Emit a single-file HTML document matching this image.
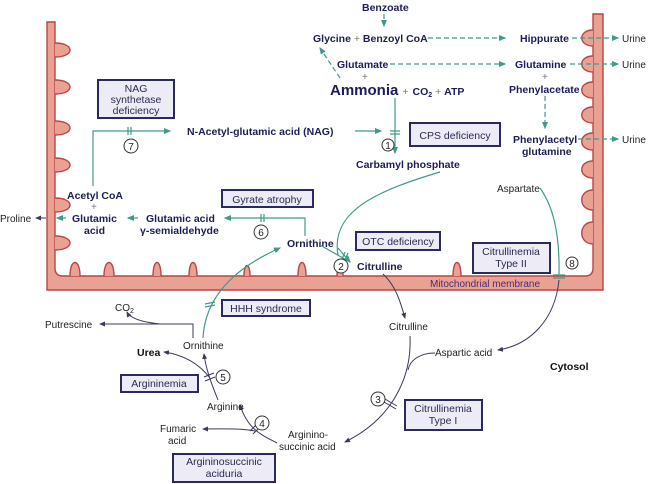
<!DOCTYPE html>
<html><head><meta charset="utf-8"><style>
html,body{margin:0;padding:0;background:#fff}
svg{display:block;font-family:"Liberation Sans",sans-serif}
.b{font-weight:bold;fill:#1c1c5a;font-size:10.5px}
.p{fill:#222;font-size:10px}
.bx{fill:#ecebf6;stroke:#2a2a60;stroke-width:2}
.bt{fill:#2a2a50;font-size:10.5px;text-anchor:middle}
.t{stroke:#3f9a8c;fill:none;stroke-width:1.2}
.d{stroke:#3a3a5a;fill:none;stroke-width:1}
.td{stroke:#3f9a8c;fill:none;stroke-width:1.2;stroke-dasharray:5,3}
.c{fill:#fff;stroke:#333;stroke-width:1}
.ct{font-size:10px;text-anchor:middle;fill:#222}
.m{fill:#e9a292;stroke:#b8454a;stroke-width:1.4}
</style></head><body>
<svg width="650" height="484" viewBox="0 0 650 484">
<defs>
<marker id="at" markerWidth="6" markerHeight="6" refX="5" refY="3" orient="auto"><path d="M0,0.5 L6,3 L0,5.5Z" fill="#3f9a8c"/></marker>
<marker id="ad" markerWidth="6" markerHeight="6" refX="5" refY="3" orient="auto"><path d="M0,0.5 L6,3 L0,5.5Z" fill="#3a3a5a"/></marker>
</defs>
<path class="m" d="M47,22 V290 H603 V14 H593 V268 Q593,276 585,276 H63 Q55,276 55,268 V22 Z"/>
<g class="m">
<path d="M55,43 C75,43 75,57 55,57"/><path d="M55,80 C75,80 75,94 55,94"/>
<path d="M55,121 C75,121 75,135 55,135"/><path d="M55,158 C75,158 75,172 55,172"/>
<path d="M55,198 C75,198 75,212 55,212"/><path d="M55,236 C75,236 75,250 55,250"/>
<path d="M70,276 C70,258 80,258 80,276"/><path d="M104,276 C104,258 114,258 114,276"/>
<path d="M153,276 C153,258 161,258 161,276"/><path d="M189,276 C189,258 197,258 197,276"/>
<path d="M244,276 C244,262 250,262 250,276"/><path d="M298,276 C298,258 306,258 306,276"/>
<path d="M337,276 C337,262 343,262 343,276"/><path d="M453,276 C453,258 461,258 461,276"/>
<path d="M593,30 C578,30 578,46 593,46"/><path d="M593,56 C578,56 578,72 593,72"/>
<path d="M593,82 C578,82 578,98 593,98"/><path d="M593,107 C578,107 578,123 593,123"/>
<path d="M593,133 C578,133 578,150 593,150"/><path d="M593,161 C578,161 578,178 593,178"/>
<path d="M593,190 C578,190 578,210 593,210"/><path d="M593,222 C578,222 578,244 593,244"/>
</g>
<text x="430" y="287" font-size="10" fill="#4a2a7a">Mitochondrial membrane</text>

<text class="b" x="362" y="11">Benzoate</text>
<text class="b" x="313" y="42">Glycine <tspan font-weight="normal" fill="#777">+</tspan> Benzoyl CoA</text>
<text class="b" x="520" y="42">Hippurate</text>
<text class="b" x="337" y="68">Glutamate</text>
<text x="362" y="80" font-size="10" fill="#777">+</text>
<text x="330" y="95" font-size="15" font-weight="bold" fill="#1c1c5a">Ammonia <tspan font-size="10" font-weight="normal" fill="#777">+</tspan> <tspan font-size="10.5">CO<tspan font-size="7" dy="2">2</tspan><tspan dy="-2" font-weight="normal" fill="#777"> + </tspan>ATP</tspan></text>
<text class="b" x="515" y="68">Glutamine</text>
<text x="542" y="80" font-size="10" fill="#777">+</text>
<text class="b" x="509" y="93">Phenylacetate</text>
<text class="b" x="513" y="143">Phenylacetyl</text>
<text class="b" x="522" y="155">glutamine</text>
<text class="p" x="622" y="42">Urine</text>
<text class="p" x="622" y="68">Urine</text>
<text class="p" x="622" y="143">Urine</text>
<path class="td" d="M384,14 V26" marker-end="url(#at)"/>
<path class="td" d="M428,38 H505" marker-end="url(#at)"/>
<path class="td" d="M572,38 H618" marker-end="url(#at)" />
<path class="td" d="M390,64 H505" marker-end="url(#at)"/>
<path class="td" d="M570,64 H618" marker-end="url(#at)"/>
<path class="td" d="M340,78 L320,48" marker-end="url(#at)"/>
<path class="td" d="M545,96 V128" marker-end="url(#at)"/>
<path class="td" d="M578,139 H618" marker-end="url(#at)"/>
<path class="t" d="M395,98 V153" marker-end="url(#at)"/>
<path class="t" d="M390,131 H400 M390,134 H400"/>
<text class="b" x="187" y="135">N-Acetyl-glutamic acid (NAG)</text>
<path class="t" d="M355,131 H381" marker-end="url(#at)"/>
<circle class="c" cx="388" cy="145" r="6"/><text class="ct" x="388" y="149">1</text>
<rect class="bx" x="410" y="123" width="90" height="23"/><text class="bt" x="455" y="139">CPS deficiency</text>
<text class="b" x="356" y="168">Carbamyl phosphate</text>

<rect class="bx" x="98" y="80" width="76" height="38"/>
<text class="bt" x="136" y="92">NAG</text><text class="bt" x="136" y="103">synthetase</text><text class="bt" x="136" y="114">deficiency</text>
<path class="t" d="M93,186 V131 H170" marker-end="url(#at)"/>
<path class="t" d="M128,127 V135 M131,127 V135"/>
<circle class="c" cx="131" cy="146" r="7"/><text class="ct" x="131" y="150">7</text>

<text class="b" x="67" y="199">Acetyl CoA</text>
<text x="91" y="210" font-size="10" fill="#777">+</text>
<text class="b" x="72" y="222">Glutamic</text><text class="b" x="84" y="234">acid</text>
<text class="p" x="0" y="222">Proline</text>
<path class="d" d="M46,218 H36" marker-end="url(#ad)"/>
<path class="t" d="M66,218 H57" marker-end="url(#at)"/>
<text class="b" x="146" y="222">Glutamic acid</text><text class="b" x="140" y="234">γ-semialdehyde</text>
<path class="t" d="M138,218 H128" marker-end="url(#at)"/>
<path class="t" d="M305,236 V218 H225" marker-end="url(#at)"/>
<path class="t" d="M261,214 V222 M264,214 V222"/>
<rect class="bx" x="222" y="190" width="91" height="17"/><text class="bt" x="267" y="203">Gyrate atrophy</text>
<circle class="c" cx="261" cy="232" r="7"/><text class="ct" x="261" y="236">6</text>
<text class="b" x="287" y="247">Ornithine</text>

<path class="t" d="M440,172 C380,190 330,210 338,255" />
<path class="t" d="M338,248 L350,262" marker-end="url(#at)"/>
<path class="t" d="M320,245 L350,262"/>
<path class="t" d="M345,252 L342,259 M348,253 L345,260"/>
<rect class="bx" x="356" y="232" width="84" height="18"/><text class="bt" x="398" y="245">OTC deficiency</text>
<circle class="c" cx="341" cy="266" r="7"/><text class="ct" x="341" y="270">2</text>
<text class="b" x="357" y="270">Citrulline</text>
<rect class="bx" x="473" y="243" width="77" height="30"/><text class="bt" x="511" y="255">Citrullinemia</text><text class="bt" x="511" y="267">Type II</text>
<circle class="c" cx="572" cy="263" r="6"/><text class="ct" x="572" y="267">8</text>
<text class="p" x="497" y="192">Aspartate</text>
<path class="t" d="M540,188 C552,205 560,230 559,276"/>
<path class="t" d="M553,275 H565 M553,278 H565"/>
<path class="d" d="M559,280 C555,320 530,345 498,350" marker-end="url(#ad)"/>
<text x="550" y="370" font-size="10.5" font-weight="bold" fill="#111">Cytosol</text>

<path class="d" d="M383,274 C395,285 400,300 405,318" marker-end="url(#ad)"/>
<text class="p" x="389" y="330">Citrulline</text>
<text class="p" x="435" y="356">Aspartic acid</text>
<path class="d" d="M410,336 C412,380 390,420 345,442" marker-end="url(#ad)"/>
<path class="d" d="M435,353 C420,353 410,360 408,370"/>
<path class="d" d="M384,402 L396,409 M385,399 L397,406"/>
<circle class="c" cx="378" cy="399" r="7"/><text class="ct" x="378" y="403">3</text>
<rect class="bx" x="405" y="400" width="77" height="30"/><text class="bt" x="443" y="412">Citrullinemia</text><text class="bt" x="443" y="424">Type I</text>
<text class="p" x="288" y="438">Arginino-</text><text class="p" x="279" y="450">succinic acid</text>
<path class="d" d="M277,443 C262,435 248,430 240,405" marker-end="url(#ad)"/>
<path class="d" d="M255,431 C240,428 220,429 203,429" marker-end="url(#ad)"/>
<path class="d" d="M250,431 L256,425 M253,434 L259,428"/>
<circle class="c" cx="262" cy="423" r="7"/><text class="ct" x="262" y="427">4</text>
<text class="p" x="160" y="432">Fumaric</text><text class="p" x="168" y="444">acid</text>
<rect class="bx" x="173" y="454" width="102" height="28"/><text class="bt" x="224" y="465">Argininosuccinic</text><text class="bt" x="224" y="477">aciduria</text>
<text class="p" x="207" y="410">Arginine</text>
<path class="d" d="M218,400 C212,385 206,370 204,354" marker-end="url(#ad)"/>
<path class="d" d="M210,378 C200,365 185,355 164,352" marker-end="url(#ad)"/>
<path class="d" d="M204,377 L214,373 M205,381 L215,377"/>
<circle class="c" cx="223" cy="377" r="7"/><text class="ct" x="223" y="381">5</text>
<rect class="bx" x="121" y="375" width="77" height="17"/><text class="bt" x="159" y="387">Argininemia</text>
<text x="137" y="356" font-size="10.5" font-weight="bold" fill="#111">Urea</text>
<text class="p" x="183" y="349">Ornithine</text>
<path class="t" d="M203,338 C205,300 230,270 280,248" marker-end="url(#at)"/>
<path class="t" d="M205,307 L215,305 M205,304 L215,302"/>
<rect class="bx" x="222" y="300" width="88" height="16"/><text class="bt" x="266" y="312">HHH syndrome</text>
<path class="d" d="M193,338 V324 H100" marker-end="url(#ad)"/>
<path class="d" d="M160,324 C140,322 130,318 127,312" marker-end="url(#ad)"/>
<text class="p" x="45" y="328">Putrescine</text>
<text class="p" x="115" y="311">CO<tspan font-size="7" dy="2">2</tspan></text>
</svg>
</body></html>
